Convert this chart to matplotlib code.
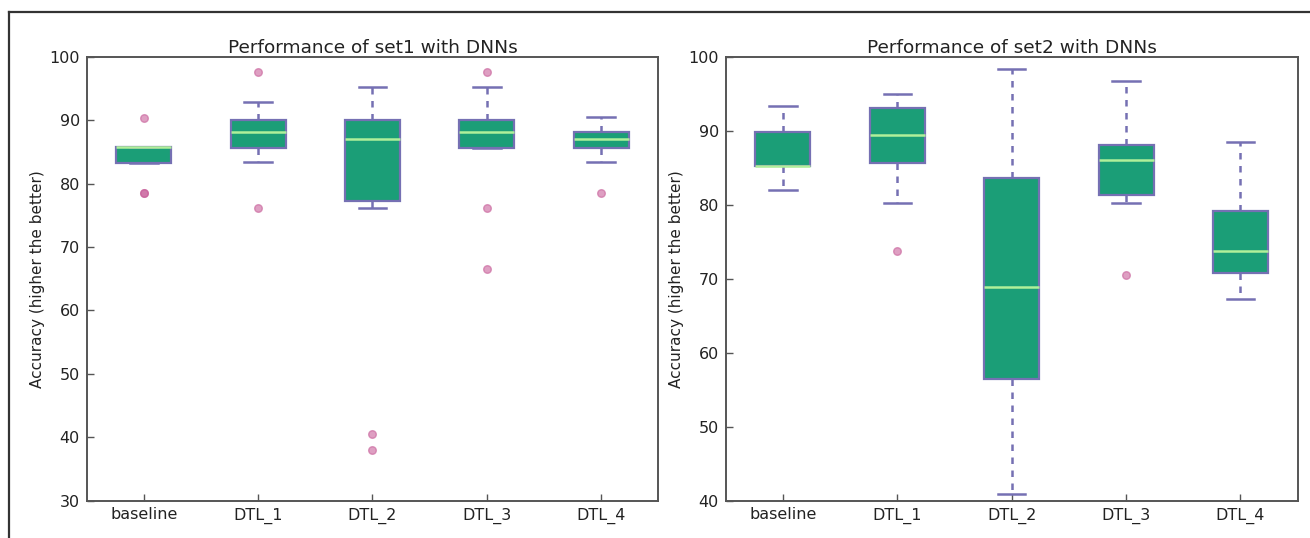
"""
Accuracy box plots for set1 / set2 with DNNs.
"""

import matplotlib
matplotlib.use("Agg")
import matplotlib.pyplot as plt
from matplotlib.lines import Line2D

# -------------------------------------------------------------------------
# Data
# -------------------------------------------------------------------------

labels = ["baseline", "DTL_1", "DTL_2", "DTL_3", "DTL_4"]

# set1
set1_q1 = [83.2, 85.6, 77.2, 85.6, 85.6]
set1_med = [85.8, 88.1, 87.0, 88.1, 87.0]
set1_q3 = [85.8, 90.0, 90.0, 90.0, 88.2]
set1_whislo = [83.2, 83.4, 76.2, 85.6, 83.4]
set1_whishi = [85.8, 92.9, 95.3, 95.3, 90.5]
set1_fliers = [
    [90.4, 78.5, 78.5],
    [97.6, 76.2],
    [40.5, 38.0],
    [97.6, 76.2, 66.6],
    [78.5],
]

# set2
set2_q1 = [85.3, 85.6, 56.5, 81.4, 70.8]
set2_med = [85.3, 89.4, 68.9, 86.1, 73.7]
set2_q3 = [89.8, 93.1, 83.7, 88.1, 79.2]
set2_whislo = [82.0, 80.3, 40.9, 80.3, 67.2]
set2_whishi = [93.4, 95.0, 98.4, 96.7, 88.5]
set2_fliers = [
    [],
    [73.7],
    [],
    [70.5],
    [],
]

# -------------------------------------------------------------------------
# Styles
# -------------------------------------------------------------------------

box_face = "#1b9e77"
edge = "#7570b3"
median_col = "#b0f09a"
flier_col = "#c8609a"
text_col = "#222222"
spine_col = "#555555"


def make_stats(q1, med, q3, lo, hi, fl):
    stats = []
    for i in range(len(q1)):
        stats.append(dict(q1=q1[i], med=med[i], q3=q3[i],
                          whislo=lo[i], whishi=hi[i], fliers=fl[i]))
    return stats


def draw(ax, stats, title, ylim, yticks):
    ax.bxp(
        stats,
        widths=0.48,
        patch_artist=True,
        showfliers=True,
        boxprops=dict(facecolor=box_face, edgecolor=edge, linewidth=1.6),
        whiskerprops=dict(color=edge, linewidth=1.8,
                          linestyle=(0, (2.6, 2.6))),
        capprops=dict(color=edge, linewidth=1.8),
        medianprops=dict(color=median_col, linewidth=1.8),
        flierprops=dict(marker="o", markerfacecolor=flier_col,
                        markeredgecolor=flier_col, alpha=0.6,
                        markersize=5.5, linestyle="none"),
    )
    ax.set_xticks(range(1, len(labels) + 1))
    ax.set_xticklabels(labels)
    ax.set_xlim(0.5, len(labels) + 0.5)
    ax.set_ylim(*ylim)
    ax.set_yticks(yticks)
    ax.set_title(title, fontsize=13.3, color=text_col, pad=3)
    ax.set_ylabel("Accuracy (higher the better)", fontsize=11,
                  color=text_col, labelpad=3)
    ax.tick_params(direction="in", length=5, width=1, colors=spine_col,
                   labelcolor=text_col, labelsize=11.5, pad=5,
                   top=False, right=False)
    for s in ax.spines.values():
        s.set_color(spine_col)
        s.set_linewidth(1.4)


# -------------------------------------------------------------------------
# Figure
# -------------------------------------------------------------------------

fig = plt.figure(figsize=(13.1, 5.38), dpi=100)
fig.patch.set_facecolor("white")

ax1 = fig.add_axes([0.0662, 0.0697, 0.4363, 0.8243])
ax2 = fig.add_axes([0.5540, 0.0697, 0.4366, 0.8243])

draw(ax1, make_stats(set1_q1, set1_med, set1_q3, set1_whislo, set1_whishi,
                     set1_fliers),
     "Performance of set1 with DNNs", (30, 100), range(30, 101, 10))
draw(ax2, make_stats(set2_q1, set2_med, set2_q3, set2_whislo, set2_whishi,
                     set2_fliers),
     "Performance of set2 with DNNs", (40, 100), range(40, 101, 10))

# outer frame (top and left edges only are visible in the reference)
W, H = 1310.0, 538.0
fig.add_artist(Line2D([8.7 / W, 1.0], [1 - 12.3 / H, 1 - 12.3 / H],
                      transform=fig.transFigure, color="#333333", lw=1.6))
fig.add_artist(Line2D([8.7 / W, 8.7 / W], [0.0, 1 - 12.3 / H],
                      transform=fig.transFigure, color="#333333", lw=1.6))

fig.savefig("out.png", dpi=100, facecolor="white")
